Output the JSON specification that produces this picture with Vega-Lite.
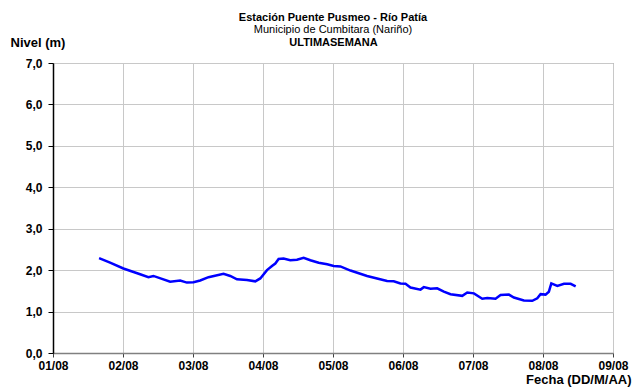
{
  "$schema": "https://vega.github.io/schema/vega-lite/v6.json",
  "width": 560,
  "height": 290,
  "autosize": {"type": "none"},
  "padding": {"left": 53, "top": 63, "right": 19, "bottom": 39},
  "background": "white",
  "config": {
    "font": "Liberation Sans",
    "view": {"stroke": "#808080", "strokeWidth": 1},
    "axis": {"labelFont": "Liberation Sans", "titleFont": "Liberation Sans"}
  },
  "title": {
    "text": "Estación Puente Pusmeo - Río Patía",
    "subtitle": "Municipio de Cumbitara (Nariño)",
    "anchor": "middle",
    "frame": "group",
    "font": "Liberation Sans",
    "fontSize": 11,
    "fontWeight": "bold",
    "color": "black",
    "subtitleFont": "Liberation Sans",
    "subtitleFontSize": 11,
    "subtitleColor": "black",
    "subtitlePadding": 1,
    "offset": 1
  },
  "data": {
    "values": [
      {"fecha": "2024-08-01T15:48", "nivel": 2.29},
      {"fecha": "2024-08-01T19:34", "nivel": 2.18},
      {"fecha": "2024-08-02T00:08", "nivel": 2.04},
      {"fecha": "2024-08-02T05:52", "nivel": 1.90},
      {"fecha": "2024-08-02T08:43", "nivel": 1.83},
      {"fecha": "2024-08-02T10:26", "nivel": 1.86},
      {"fecha": "2024-08-02T16:10", "nivel": 1.72},
      {"fecha": "2024-08-02T19:36", "nivel": 1.75},
      {"fecha": "2024-08-02T21:54", "nivel": 1.70},
      {"fecha": "2024-08-03T00:10", "nivel": 1.71},
      {"fecha": "2024-08-03T02:28", "nivel": 1.75},
      {"fecha": "2024-08-03T05:19", "nivel": 1.83},
      {"fecha": "2024-08-03T10:28", "nivel": 1.91},
      {"fecha": "2024-08-03T12:46", "nivel": 1.86},
      {"fecha": "2024-08-03T15:04", "nivel": 1.78},
      {"fecha": "2024-08-03T18:30", "nivel": 1.76},
      {"fecha": "2024-08-03T21:21", "nivel": 1.73},
      {"fecha": "2024-08-03T23:04", "nivel": 1.80},
      {"fecha": "2024-08-04T01:22", "nivel": 2.00},
      {"fecha": "2024-08-04T03:05", "nivel": 2.10},
      {"fecha": "2024-08-04T04:13", "nivel": 2.16},
      {"fecha": "2024-08-04T05:21", "nivel": 2.27},
      {"fecha": "2024-08-04T07:03", "nivel": 2.28},
      {"fecha": "2024-08-04T09:21", "nivel": 2.24},
      {"fecha": "2024-08-04T11:39", "nivel": 2.25},
      {"fecha": "2024-08-04T13:56", "nivel": 2.30},
      {"fecha": "2024-08-04T16:14", "nivel": 2.24},
      {"fecha": "2024-08-04T19:05", "nivel": 2.18},
      {"fecha": "2024-08-04T22:00", "nivel": 2.14},
      {"fecha": "2024-08-05T00:14", "nivel": 2.10},
      {"fecha": "2024-08-05T02:32", "nivel": 2.09},
      {"fecha": "2024-08-05T06:00", "nivel": 1.99},
      {"fecha": "2024-08-05T11:41", "nivel": 1.86},
      {"fecha": "2024-08-05T15:07", "nivel": 1.80},
      {"fecha": "2024-08-05T18:33", "nivel": 1.74},
      {"fecha": "2024-08-05T20:50", "nivel": 1.73},
      {"fecha": "2024-08-05T23:08", "nivel": 1.68},
      {"fecha": "2024-08-06T00:51", "nivel": 1.67},
      {"fecha": "2024-08-06T02:34", "nivel": 1.58},
      {"fecha": "2024-08-06T06:00", "nivel": 1.53},
      {"fecha": "2024-08-06T07:08", "nivel": 1.59},
      {"fecha": "2024-08-06T09:26", "nivel": 1.55},
      {"fecha": "2024-08-06T11:43", "nivel": 1.56},
      {"fecha": "2024-08-06T14:00", "nivel": 1.48},
      {"fecha": "2024-08-06T16:17", "nivel": 1.42},
      {"fecha": "2024-08-06T20:19", "nivel": 1.38},
      {"fecha": "2024-08-06T22:02", "nivel": 1.46},
      {"fecha": "2024-08-07T00:19", "nivel": 1.44},
      {"fecha": "2024-08-07T03:10", "nivel": 1.31},
      {"fecha": "2024-08-07T04:53", "nivel": 1.33},
      {"fecha": "2024-08-07T07:44", "nivel": 1.31},
      {"fecha": "2024-08-07T09:27", "nivel": 1.40},
      {"fecha": "2024-08-07T12:18", "nivel": 1.41},
      {"fecha": "2024-08-07T14:01", "nivel": 1.34},
      {"fecha": "2024-08-07T17:27", "nivel": 1.27},
      {"fecha": "2024-08-07T20:19", "nivel": 1.26},
      {"fecha": "2024-08-07T22:02", "nivel": 1.32},
      {"fecha": "2024-08-07T23:10", "nivel": 1.42},
      {"fecha": "2024-08-08T00:53", "nivel": 1.41},
      {"fecha": "2024-08-08T02:01", "nivel": 1.48},
      {"fecha": "2024-08-08T02:51", "nivel": 1.68},
      {"fecha": "2024-08-08T04:55", "nivel": 1.62},
      {"fecha": "2024-08-08T07:12", "nivel": 1.67},
      {"fecha": "2024-08-08T09:29", "nivel": 1.67},
      {"fecha": "2024-08-08T11:12", "nivel": 1.61}
    ]
  },
  "resolve": {"axis": {"x": "independent"}},
  "layer": [
    {
      "mark": {"type": "line", "color": "#0000ff", "strokeWidth": 2.5},
      "encoding": {
        "x": {
          "field": "fecha",
          "type": "temporal",
          "scale": {"domain": [{"year": 2024, "month": 8, "date": 1}, {"year": 2024, "month": 8, "date": 9}]},
          "axis": {
            "title": "Fecha (DD/M/AA)",
            "format": "%d/%m",
            "tickCount": {"interval": "day", "step": 1},
            "labelFontSize": 12,
            "labelFontWeight": "bold",
            "labelColor": "black",
            "labelPadding": 3,
            "labelFlush": false,
            "tickSize": 4,
            "tickColor": "#404040",
            "domainColor": "#808080",
            "domainWidth": 1.5,
            "grid": true,
            "gridColor": "#c8c8c8",
            "titleFontSize": 13,
            "titleFontWeight": "bold",
            "titleColor": "black",
            "titleAlign": "right",
            "titleAnchor": null,
            "titleBaseline": "alphabetic",
            "titleX": 578,
            "titleY": 30
          }
        },
        "y": {
          "field": "nivel",
          "type": "quantitative",
          "scale": {"domain": [0, 7], "nice": false, "zero": true},
          "axis": {
            "title": "Nivel (m)",
            "values": [0, 0.5, 1, 1.5, 2, 2.5, 3, 3.5, 4, 4.5, 5, 5.5, 6, 6.5, 7],
            "labelExpr": "datum.value % 1 === 0 ? replace(format(datum.value, '.1f'), '.', ',') : ''",
            "tickOpacity": {"condition": {"test": "datum.value % 1 === 0", "value": 1}, "value": 0},
            "labelFontSize": 12,
            "labelFontWeight": "bold",
            "labelColor": "black",
            "labelPadding": 6,
            "tickSize": 5,
            "tickColor": "black",
            "domainColor": "black",
            "domainWidth": 1.5,
            "grid": true,
            "gridColor": "#c8c8c8",
            "titleFontSize": 13,
            "titleFontWeight": "bold",
            "titleColor": "black",
            "titleAngle": 0,
            "titleAlign": "left",
            "titleAnchor": null,
            "titleBaseline": "alphabetic",
            "titleX": -43,
            "titleY": -17
          }
        }
      }
    },
    {
      "mark": {"type": "line", "opacity": 0},
      "encoding": {
        "x": {
          "field": "fecha",
          "type": "temporal",
          "axis": {
            "orient": "top",
            "title": "ULTIMASEMANA",
            "labels": false,
            "ticks": false,
            "domain": false,
            "grid": false,
            "titleFontSize": 11,
            "titleFontWeight": "bold",
            "titleColor": "black",
            "titlePadding": 16
          }
        },
        "y": {"field": "nivel", "type": "quantitative"}
      }
    }
  ]
}
